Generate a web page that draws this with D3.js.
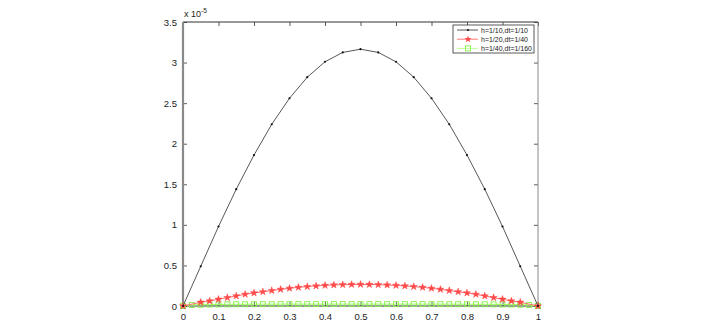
<!DOCTYPE html>
<html>
<head>
<meta charset="utf-8">
<script src="https://cdn.jsdelivr.net/npm/d3@7"></script>
<style>
  body { margin: 0; background: #fff; }
  text { font-family: "Liberation Sans", Arial, sans-serif; }
</style>
</head>
<body>
<svg id="chart"></svg>
<script>
// values in units of 1e-5
const xTicks = [0, 0.1, 0.2, 0.3, 0.4, 0.5, 0.6, 0.7, 0.8, 0.9, 1];
const yTicks = [0, 0.5, 1, 1.5, 2, 2.5, 3, 3.5];

const blackX = [0, 0.05, 0.1, 0.15, 0.2, 0.25, 0.3, 0.35, 0.4, 0.45, 0.5,
  0.55, 0.6, 0.65, 0.7, 0.75, 0.8, 0.85, 0.9, 0.95, 1];
const blackY = [0, 0.49, 0.98, 1.44, 1.86, 2.24, 2.56, 2.82, 3.01, 3.125, 3.165,
  3.125, 3.01, 2.82, 2.56, 2.24, 1.86, 1.44, 0.98, 0.49, 0];

const redX = [0, 0.05, 0.075, 0.1, 0.125, 0.15, 0.175, 0.2, 0.225, 0.25, 0.275,
  0.3, 0.325, 0.35, 0.375, 0.4, 0.425, 0.45, 0.475, 0.5, 0.525, 0.55, 0.575,
  0.6, 0.625, 0.65, 0.675, 0.7, 0.725, 0.75, 0.775, 0.8, 0.825, 0.85, 0.875,
  0.9, 0.925, 0.95, 1];
const redY = [0, 0.046, 0.062, 0.083, 0.103, 0.124, 0.144, 0.161, 0.175, 0.19,
  0.205, 0.218, 0.23, 0.239, 0.247, 0.254, 0.259, 0.263, 0.265, 0.266, 0.265,
  0.263, 0.259, 0.254, 0.247, 0.239, 0.23, 0.218, 0.205, 0.19, 0.175, 0.161,
  0.144, 0.124, 0.103, 0.083, 0.062, 0.046, 0];

const greenX = [0, 0.025, 0.05, 0.075, 0.1, 0.125, 0.15, 0.175, 0.2, 0.225, 0.25,
  0.275, 0.3, 0.325, 0.35, 0.375, 0.4, 0.425, 0.45, 0.475, 0.5, 0.525, 0.55,
  0.575, 0.6, 0.625, 0.65, 0.675, 0.7, 0.725, 0.75, 0.775, 0.8, 0.825, 0.85,
  0.875, 0.9, 0.925, 0.95, 0.975, 1];
const greenY = [0, 0.012, 0.016, 0.018, 0.019, 0.02, 0.021, 0.021, 0.022, 0.022,
  0.022, 0.023, 0.023, 0.023, 0.023, 0.023, 0.023, 0.023, 0.023, 0.023, 0.023,
  0.023, 0.023, 0.023, 0.023, 0.023, 0.023, 0.023, 0.023, 0.023, 0.022, 0.022,
  0.022, 0.021, 0.021, 0.02, 0.019, 0.018, 0.016, 0.012, 0];

const legendLabels = ['h=1/10,dt=1/10', 'h=1/20,dt=1/40', 'h=1/40,dt=1/160'];
const legendWidths = [47, 47, 51];

const width = 726, height = 333;
const margin = { left: 183, right: 188, top: 22, bottom: 27 };

const svg = d3.select('#chart')
  .attr('width', width)
  .attr('height', height);

const x = d3.scaleLinear().domain([0, 1]).range([margin.left, width - margin.right]);
const y = d3.scaleLinear().domain([0, 3.5]).range([height - margin.bottom, margin.top]);

const fmt = d => String(d);

// Axes with inward ticks
const gx = svg.append('g')
  .attr('transform', `translate(0,${y(0)})`)
  .call(d3.axisBottom(x).tickValues(xTicks).tickFormat(fmt).tickSizeInner(-4).tickSizeOuter(0).tickPadding(7));
const gxTop = svg.append('g')
  .attr('transform', `translate(0,${y(3.5)})`)
  .call(d3.axisTop(x).tickValues(xTicks).tickFormat('').tickSizeInner(-4).tickSizeOuter(0));
const gy = svg.append('g')
  .attr('transform', `translate(${x(0)},0)`)
  .call(d3.axisLeft(y).tickValues(yTicks).tickFormat(fmt).tickSizeInner(-4).tickSizeOuter(0).tickPadding(6));
const gyRight = svg.append('g')
  .attr('transform', `translate(${x(1)},0)`)
  .call(d3.axisRight(y).tickValues(yTicks).tickFormat('').tickSizeInner(-4).tickSizeOuter(0));

[gx, gxTop, gy, gyRight].forEach(g => {
  g.selectAll('.domain').remove();
  g.selectAll('line').attr('stroke', '#333').attr('stroke-width', 0.8);
  g.selectAll('text').attr('font-size', 9.5).attr('fill', '#222');
});

// frame
svg.append('line').attr('x1', x(0)).attr('x2', x(1)).attr('y1', y(3.5)).attr('y2', y(3.5))
  .attr('stroke', '#333').attr('stroke-width', 1);
svg.append('line').attr('x1', x(0)).attr('x2', x(1)).attr('y1', y(0)).attr('y2', y(0))
  .attr('stroke', '#333').attr('stroke-width', 1);
svg.append('line').attr('x1', x(1)).attr('x2', x(1)).attr('y1', y(0)).attr('y2', y(3.5))
  .attr('stroke', '#888').attr('stroke-width', 1);
svg.append('line').attr('x1', x(0)).attr('x2', x(0)).attr('y1', y(0)).attr('y2', y(3.5))
  .attr('stroke', '#8a8a8a').attr('stroke-width', 2.2);

// exponent label
const expo = svg.append('text')
  .attr('x', x(0) + 1).attr('y', y(3.5) - 5)
  .attr('font-size', 9).attr('fill', '#222');
expo.append('tspan').text('x 10');
expo.append('tspan').attr('dy', -4).attr('font-size', 6.5).text('-5');

const line = d3.line().x(d => x(d[0])).y(d => y(d[1]));

// green series
const green = greenX.map((v, i) => [v, greenY[i]]);
svg.append('path').datum(green).attr('d', line)
  .attr('fill', 'none').attr('stroke', '#9cff5c').attr('stroke-width', 1);
svg.append('g').selectAll('rect').data(green).join('rect')
  .attr('x', d => x(d[0]) - 2.5).attr('y', d => y(d[1]) - 2.5)
  .attr('width', 5).attr('height', 5)
  .attr('fill', 'none').attr('stroke', '#86ef46').attr('stroke-width', 0.9);

// red series
const red = redX.map((v, i) => [v, redY[i]]);
const star = d3.symbol().type(d3.symbolStar).size(16);
svg.append('path').datum(red).attr('d', line)
  .attr('fill', 'none').attr('stroke', '#ff6a6a').attr('stroke-width', 1);
svg.append('g').selectAll('path').data(red).join('path')
  .attr('transform', d => `translate(${x(d[0])},${y(d[1])})`)
  .attr('d', star)
  .attr('fill', '#ff4a4a').attr('stroke', '#ff3030').attr('stroke-width', 0.4);

// black series
const black = blackX.map((v, i) => [v, blackY[i]]);
svg.append('path').datum(black).attr('d', line)
  .attr('fill', 'none').attr('stroke', '#444').attr('stroke-width', 0.9);
svg.append('g').selectAll('circle').data(black).join('circle')
  .attr('cx', d => x(d[0])).attr('cy', d => y(d[1])).attr('r', 1.1)
  .attr('fill', '#111');

// legend
const lg = svg.append('g').attr('transform', 'translate(453,25)');
lg.append('rect').attr('width', 81).attr('height', 28)
  .attr('fill', '#fff').attr('stroke', '#333').attr('stroke-width', 0.8);
const rows = lg.selectAll('g').data(legendLabels).join('g')
  .attr('transform', (d, i) => `translate(0,${5 + i * 9.2})`);
const lColors = ['#444', '#ff6a6a', '#b6ff88'];
rows.append('line').attr('x1', 4).attr('x2', 25)
  .attr('stroke', (d, i) => lColors[i]).attr('stroke-width', 0.9);
rows.filter((d, i) => i === 0).append('circle').attr('cx', 15).attr('r', 1.1).attr('fill', '#111');
rows.filter((d, i) => i === 1).append('path').attr('transform', 'translate(15,0)')
  .attr('d', star).attr('fill', '#ff4a4a');
rows.filter((d, i) => i === 2).append('rect').attr('x', 12.5).attr('y', -2.5)
  .attr('width', 5).attr('height', 5).attr('fill', 'none')
  .attr('stroke', '#86ef46').attr('stroke-width', 0.9);
rows.append('text').attr('x', 28).attr('dy', '0.35em')
  .attr('font-size', 7.8).attr('fill', '#222')
  .attr('textLength', (d, i) => legendWidths[i]).attr('lengthAdjust', 'spacingAndGlyphs')
  .text(d => d);
</script>
</body>
</html>
